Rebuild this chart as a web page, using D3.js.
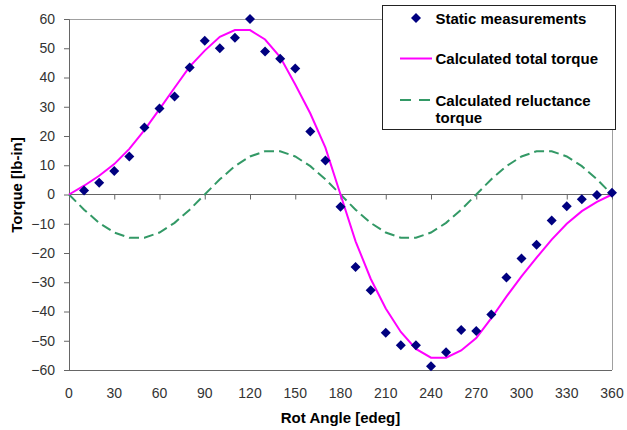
<!DOCTYPE html>
<html>
<head>
<meta charset="utf-8">
<script src="https://cdn.jsdelivr.net/npm/d3@7"></script>
<style>
  html, body { margin: 0; padding: 0; background: #fff; }
  svg { display: block; font-family: "Liberation Sans", Arial, sans-serif; }
</style>
</head>
<body>
<svg id="chart" width="627" height="430"></svg>
<script>
// Rotor angle (electrical degrees) for the calculated curves
const calcAngles = [0, 10, 20, 30, 40, 50, 60, 70, 80, 90, 100, 110, 120, 130, 140, 150, 160, 170, 180,
  190, 200, 210, 220, 230, 240, 250, 260, 270, 280, 290, 300, 310, 320, 330, 340, 350, 360];

// Calculated total torque [lb-in]
const totalTorque = [0, 3.0, 6.4, 10.4, 15.6, 22.0, 29.2, 36.5, 43.7, 49.2, 53.9, 56.2, 56.2, 53.0, 47.0, 37.6, 27.7, 16.0, 0,
  -16.0, -28.8, -39.0, -47.0, -52.8, -55.8, -55.8, -53.3, -49.1, -42.3, -34.9, -28.0, -21.6, -15.4, -10.0, -5.7, -2.5, 0];

// Calculated reluctance torque [lb-in]
const reluctanceTorque = [0, -5.2, -9.7, -13.0, -14.8, -14.8, -13.0, -9.7, -5.2, 0, 5.2, 9.7, 13.0, 14.8, 14.8, 13.0, 9.7, 5.2, 0,
  -5.2, -9.7, -13.0, -14.8, -14.8, -13.0, -9.7, -5.2, 0, 5.2, 9.7, 13.0, 14.8, 14.8, 13.0, 9.7, 5.2, 0];

// Static measurements
const measAngles = [10, 20, 30, 40, 50, 60, 70, 80, 90, 100, 110, 120, 130, 140, 150, 160, 170, 180,
  190, 200, 210, 220, 230, 240, 250, 260, 270, 280, 290, 300, 310, 320, 330, 340, 350, 360];
const measTorque = [1.4, 4.0, 8.0, 13.0, 22.9, 29.4, 33.5, 43.4, 52.6, 50.0, 53.6, 60.0, 48.9, 46.4, 43.1, 21.5, 11.6, -4.2,
  -24.8, -32.7, -47.3, -51.5, -51.5, -58.7, -53.9, -46.3, -46.7, -41.0, -28.4, -21.9, -17.2, -8.9, -4.0, -1.6, -0.2, 0.6];

// Axis ticks and labels
const xTicks = [0, 30, 60, 90, 120, 150, 180, 210, 240, 270, 300, 330, 360];
const yTicks = [-60, -50, -40, -30, -20, -10, 0, 10, 20, 30, 40, 50, 60];
const xTitle = "Rot Angle [edeg]";
const yTitle = "Torque [lb-in]";
const legendLabels = ["Static measurements", "Calculated total torque", ["Calculated reluctance", "torque"]];

const svg = d3.select("#chart");
const W = 627, H = 430;
const margin = { left: 69, right: 15, top: 19, bottom: 60 };

const x = d3.scaleLinear().domain([0, 360]).range([margin.left, W - margin.right]);
const y = d3.scaleLinear().domain([-60, 60]).range([H - margin.bottom, margin.top]);

const axisColor = "#666";
const borderColor = "#a0a0a0";
const labelColor = "#333";
const pink = "#ff00ff";
const green = "#339966";
const navy = "#000080";

// Plot area border (top and right), bottom edge
svg.append("line").attr("x1", x(0)).attr("x2", x(360)).attr("y1", y(60)).attr("y2", y(60))
  .attr("stroke", borderColor).attr("shape-rendering", "crispEdges");
svg.append("line").attr("x1", x(360)).attr("x2", x(360)).attr("y1", y(60)).attr("y2", y(-60))
  .attr("stroke", borderColor).attr("shape-rendering", "crispEdges");
svg.append("line").attr("x1", x(0)).attr("x2", x(360)).attr("y1", y(-60)).attr("y2", y(-60))
  .attr("stroke", axisColor).attr("shape-rendering", "crispEdges");

// Y axis
const yAxis = d3.axisLeft(y).tickValues(yTicks).tickSize(5).tickPadding(9).tickFormat(d3.format("d"));
const gy = svg.append("g").attr("transform", `translate(${x(0)},0)`).call(yAxis);
gy.select(".domain").attr("stroke", axisColor);
gy.selectAll(".tick line").attr("stroke", axisColor);
gy.selectAll(".tick text").attr("font-size", 14).attr("fill", labelColor)
  .attr("font-family", "'Liberation Sans', Arial, sans-serif");

// X axis along zero line, labels below the plot area
const xAxis = d3.axisBottom(x).tickValues(xTicks).tickSize(5).tickFormat("");
const gx = svg.append("g").attr("transform", `translate(0,${y(0)})`).call(xAxis);
gx.select(".domain").attr("stroke", axisColor).attr("d", `M${x(0)},0H${x(360)}`);
gx.selectAll(".tick line").attr("stroke", axisColor);

svg.append("g").selectAll("text").data(xTicks).join("text")
  .attr("x", d => x(d)).attr("y", y(-60) + 28)
  .attr("text-anchor", "middle").attr("font-size", 14).attr("fill", labelColor)
  .text(d => d);

// Axis titles
svg.append("text").attr("x", (x(0) + x(360)) / 2).attr("y", 422.5)
  .attr("text-anchor", "middle").attr("font-size", 15).attr("font-weight", "bold").text(xTitle);
svg.append("text").attr("transform", `translate(21.5,185) rotate(-90)`)
  .attr("text-anchor", "middle").attr("font-size", 15).attr("font-weight", "bold").text(yTitle);

// Calculated curves
const line = d3.line().x(d => x(d[0])).y(d => y(d[1]));
svg.append("path").datum(calcAngles.map((a, i) => [a, reluctanceTorque[i]]))
  .attr("d", line).attr("fill", "none").attr("stroke", green).attr("stroke-width", 2)
  .attr("stroke-dasharray", "10,5");
svg.append("path").datum(calcAngles.map((a, i) => [a, totalTorque[i]]))
  .attr("d", line).attr("fill", "none").attr("stroke", pink).attr("stroke-width", 2);

// Measured points as diamonds
const diamond = d3.symbol(d3.symbolSquare, 50);
svg.append("g").selectAll("path").data(measAngles.map((a, i) => [a, measTorque[i]])).join("path")
  .attr("d", diamond)
  .attr("transform", d => `translate(${x(d[0])},${y(d[1])}) rotate(45)`)
  .attr("fill", navy);

// Legend
const lg = svg.append("g");
lg.append("rect").attr("x", 382.5).attr("y", 5.5).attr("width", 233).attr("height", 124)
  .attr("fill", "#fff").attr("stroke", "#222");
lg.append("path").attr("d", diamond).attr("transform", "translate(416,18) rotate(45)").attr("fill", navy);
lg.append("line").attr("x1", 400).attr("x2", 432).attr("y1", 58.5).attr("y2", 58.5)
  .attr("stroke", pink).attr("stroke-width", 2);
lg.append("line").attr("x1", 400).attr("x2", 432).attr("y1", 100).attr("y2", 100)
  .attr("stroke", green).attr("stroke-width", 2).attr("stroke-dasharray", "11,8");
const lt = lg.append("g").attr("font-size", 15).attr("font-weight", "bold").attr("fill", "#000");
lt.append("text").attr("x", 435.5).attr("y", 23.5).text(legendLabels[0]);
lt.append("text").attr("x", 435.5).attr("y", 64).text(legendLabels[1]);
const t3 = lt.append("text").attr("x", 435.5).attr("y", 105.5);
t3.append("tspan").attr("x", 435.5).text(legendLabels[2][0]);
t3.append("tspan").attr("x", 435.5).attr("dy", 17).text(legendLabels[2][1]);
</script>
</body>
</html>
